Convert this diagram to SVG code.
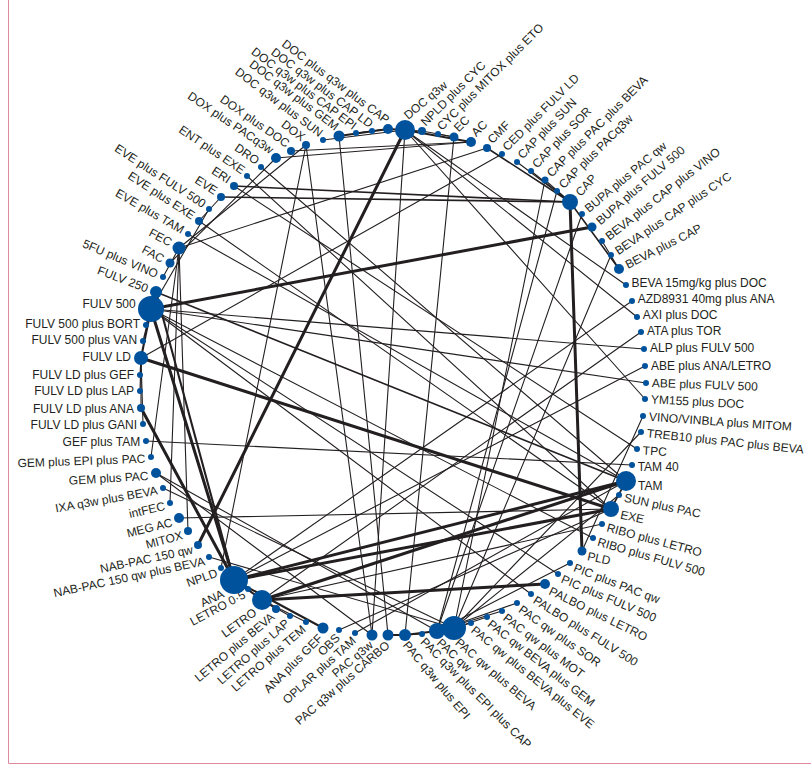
<svg xmlns="http://www.w3.org/2000/svg" width="811" height="767" viewBox="0 0 811 767">
<style>
text{font-family:"Liberation Sans",Arial,sans-serif;font-size:12px;fill:#231f20}
.s{text-anchor:start}.e{text-anchor:end}
circle{fill:#00529c}
#edges line{stroke:#231f20;stroke-linecap:round}
.t1{stroke-width:1.1}.t15{stroke-width:1.6}.t2{stroke-width:2.1}.t3{stroke-width:3}
.frame{stroke:#e08aa0;stroke-width:1;fill:none}
</style>
<rect width="811" height="767" fill="#ffffff"/>
<path class="frame" d="M8.5,0 V763.5 H811"/>
<g id="edges">
<line class="t2" x1="405" y1="130" x2="388" y2="129"/>
<line class="t2" x1="388" y1="129" x2="339" y2="136"/>
<line class="t1" x1="388" y1="129" x2="372" y2="131"/>
<line class="t1" x1="388" y1="129" x2="356" y2="133"/>
<line class="t1" x1="405" y1="130" x2="323" y2="140"/>
<line class="t1" x1="405" y1="130" x2="422" y2="131"/>
<line class="t1" x1="422" y1="131" x2="454" y2="137"/>
<line class="t1" x1="438" y1="134" x2="454" y2="137"/>
<line class="t2" x1="405" y1="130" x2="471" y2="142"/>
<line class="t1" x1="471" y1="142" x2="291" y2="151"/>
<line class="t1" x1="471" y1="142" x2="276" y2="158"/>
<line class="t1" x1="454" y1="137" x2="405" y2="635"/>
<line class="t1" x1="487" y1="148" x2="179" y2="248"/>
<line class="t1" x1="502" y1="154" x2="141" y2="358"/>
<line class="t15" x1="487" y1="148" x2="570" y2="202"/>
<line class="t1" x1="517" y1="162" x2="570" y2="202"/>
<line class="t1" x1="531" y1="171" x2="570" y2="202"/>
<line class="t1" x1="545" y1="180" x2="570" y2="202"/>
<line class="t1" x1="557" y1="191" x2="570" y2="202"/>
<line class="t1" x1="545" y1="180" x2="454" y2="628"/>
<line class="t1" x1="557" y1="191" x2="437" y2="631"/>
<line class="t3" x1="570" y1="202" x2="582" y2="551"/>
<line class="t15" x1="570" y1="202" x2="234" y2="186"/>
<line class="t15" x1="570" y1="202" x2="221" y2="197"/>
<line class="t15" x1="570" y1="202" x2="619" y2="269"/>
<line class="t1" x1="582" y1="214" x2="437" y2="631"/>
<line class="t3" x1="592" y1="227" x2="151" y2="309"/>
<line class="t1" x1="602" y1="241" x2="619" y2="269"/>
<line class="t1" x1="611" y1="255" x2="454" y2="628"/>
<line class="t1" x1="626" y1="285" x2="405" y2="130"/>
<line class="t1" x1="632" y1="301" x2="234" y2="580"/>
<line class="t1" x1="637" y1="317" x2="405" y2="130"/>
<line class="t1" x1="641" y1="332" x2="262" y2="600"/>
<line class="t1" x1="644" y1="349" x2="151" y2="309"/>
<line class="t1" x1="645" y1="366" x2="234" y2="580"/>
<line class="t1" x1="646" y1="383" x2="151" y2="309"/>
<line class="t1" x1="645" y1="399" x2="405" y2="130"/>
<line class="t1" x1="643" y1="416" x2="582" y2="551"/>
<line class="t1" x1="641" y1="432" x2="454" y2="628"/>
<line class="t1" x1="637" y1="449" x2="234" y2="186"/>
<line class="t1" x1="146" y1="441" x2="632" y2="465"/>
<line class="t1" x1="619" y1="495" x2="454" y2="628"/>
<line class="t1" x1="611" y1="509" x2="179" y2="518"/>
<line class="t1" x1="611" y1="509" x2="247" y2="176"/>
<line class="t1" x1="611" y1="509" x2="199" y2="221"/>
<line class="t3" x1="611" y1="509" x2="141" y2="358"/>
<line class="t3" x1="611" y1="509" x2="234" y2="580"/>
<line class="t15" x1="611" y1="509" x2="626" y2="481"/>
<line class="t1" x1="602" y1="524" x2="262" y2="600"/>
<line class="t1" x1="593" y1="538" x2="151" y2="309"/>
<line class="t1" x1="570" y1="563" x2="437" y2="631"/>
<line class="t1" x1="558" y1="574" x2="151" y2="309"/>
<line class="t3" x1="545" y1="584" x2="262" y2="600"/>
<line class="t1" x1="531" y1="594" x2="151" y2="309"/>
<line class="t1" x1="517" y1="603" x2="437" y2="631"/>
<line class="t1" x1="502" y1="611" x2="437" y2="631"/>
<line class="t1" x1="487" y1="617" x2="454" y2="628"/>
<line class="t1" x1="471" y1="623" x2="454" y2="628"/>
<line class="t3" x1="454" y1="628" x2="437" y2="631"/>
<line class="t1" x1="422" y1="634" x2="405" y2="635"/>
<line class="t2" x1="405" y1="635" x2="437" y2="631"/>
<line class="t2" x1="388" y1="635" x2="405" y2="635"/>
<line class="t1" x1="372" y1="635" x2="306" y2="145"/>
<line class="t1" x1="372" y1="635" x2="156" y2="473"/>
<line class="t1" x1="372" y1="635" x2="405" y2="130"/>
<line class="t1" x1="388" y1="635" x2="339" y2="136"/>
<line class="t2" x1="234" y1="580" x2="323" y2="628"/>
<line class="t1" x1="262" y1="600" x2="276" y2="609"/>
<line class="t1" x1="262" y1="600" x2="290" y2="616"/>
<line class="t1" x1="262" y1="600" x2="306" y2="622"/>
<line class="t1" x1="355" y1="633" x2="626" y2="481"/>
<line class="t1" x1="339" y1="630" x2="611" y2="509"/>
<line class="t1" x1="209" y1="557" x2="454" y2="628"/>
<line class="t3" x1="198" y1="545" x2="405" y2="130"/>
<line class="t1" x1="179" y1="248" x2="188" y2="531"/>
<line class="t1" x1="179" y1="248" x2="170" y2="503"/>
<line class="t1" x1="179" y1="248" x2="151" y2="457"/>
<line class="t1" x1="163" y1="488" x2="454" y2="628"/>
<line class="t1" x1="156" y1="473" x2="437" y2="631"/>
<line class="t1" x1="143" y1="424" x2="141" y2="358"/>
<line class="t1" x1="141" y1="408" x2="141" y2="358"/>
<line class="t1" x1="140" y1="391" x2="141" y2="358"/>
<line class="t1" x1="140" y1="375" x2="141" y2="358"/>
<line class="t3" x1="141" y1="408" x2="234" y2="580"/>
<line class="t1" x1="143" y1="341" x2="151" y2="309"/>
<line class="t1" x1="146" y1="325" x2="151" y2="309"/>
<line class="t2" x1="151" y1="309" x2="141" y2="358"/>
<line class="t2" x1="151" y1="309" x2="156" y2="292"/>
<line class="t3" x1="151" y1="309" x2="234" y2="580"/>
<line class="t2" x1="156" y1="292" x2="234" y2="580"/>
<line class="t15" x1="156" y1="292" x2="626" y2="481"/>
<line class="t1" x1="163" y1="277" x2="179" y2="248"/>
<line class="t1" x1="170" y1="263" x2="276" y2="158"/>
<line class="t1" x1="179" y1="248" x2="306" y2="145"/>
<line class="t1" x1="188" y1="234" x2="626" y2="481"/>
<line class="t1" x1="221" y1="197" x2="199" y2="221"/>
<line class="t1" x1="261" y1="167" x2="626" y2="481"/>
<line class="t1" x1="209" y1="209" x2="151" y2="309"/>
<line class="t3" x1="234" y1="580" x2="626" y2="481"/>
<line class="t3" x1="262" y1="600" x2="626" y2="481"/>
<line class="t15" x1="234" y1="580" x2="262" y2="600"/>
<line class="t1" x1="248" y1="589" x2="262" y2="600"/>
<line class="t1" x1="221" y1="568" x2="306" y2="145"/>
</g>
<g id="n-docq3w"><circle cx="405" cy="130" r="10"/><text class="s" transform="translate(405,130) rotate(-87.3) translate(13,0) rotate(47.3)" y="4">DOC q3w</text></g>
<g id="n-npldcyc"><circle cx="422" cy="131" r="4"/><text class="s" transform="translate(422,131) rotate(-83.4) translate(7,0) rotate(38.4)" y="4">NPLD plus CYC</text></g>
<g id="n-cycmitox"><circle cx="438" cy="134" r="3"/><text class="s" transform="translate(438,134) rotate(-79.7) translate(6,0) rotate(34.7)" y="4">CYC plus MITOX plus ETO</text></g>
<g id="n-ec"><circle cx="454" cy="137" r="4.5"/><text class="s" transform="translate(454,137) rotate(-76) translate(7.5,0) rotate(31)" y="4">EC</text></g>
<g id="n-ac"><circle cx="471" cy="142" r="5"/><text class="s" transform="translate(471,142) rotate(-72) translate(8,0) rotate(27)" y="4">AC</text></g>
<g id="n-cmf"><circle cx="487" cy="148" r="4"/><text class="s" transform="translate(487,148) rotate(-68.1) translate(7,0) rotate(23.1)" y="4">CMF</text></g>
<g id="n-cedfulvld"><circle cx="502" cy="154" r="3"/><text class="s" transform="translate(502,154) rotate(-64.4) translate(6,0) rotate(19.4)" y="4">CED plus FULV LD</text></g>
<g id="n-capsun"><circle cx="517" cy="162" r="3"/><text class="s" transform="translate(517,162) rotate(-60.6) translate(6,0) rotate(14.6)" y="4">CAP plus SUN</text></g>
<g id="n-capsor"><circle cx="531" cy="171" r="3"/><text class="s" transform="translate(531,171) rotate(-56.8) translate(6,0) rotate(10.8)" y="4">CAP plus SOR</text></g>
<g id="n-cappacbeva"><circle cx="545" cy="180" r="3.5"/><text class="s" transform="translate(545,180) rotate(-53) translate(6.5,0) rotate(8)" y="4">CAP plus PAC plus BEVA</text></g>
<g id="n-cappacq3w"><circle cx="557" cy="191" r="3"/><text class="s" transform="translate(557,191) rotate(-49.4) translate(6,0) rotate(4.4)" y="4">CAP plus PACq3w</text></g>
<g id="n-cap"><circle cx="570" cy="202" r="8"/><text class="s" transform="translate(570,202) rotate(-45.5) translate(11,0) rotate(-1.5)" y="4">CAP</text></g>
<g id="n-bupapac"><circle cx="582" cy="214" r="3"/><text class="s" transform="translate(582,214) rotate(-41.6) translate(6,0) rotate(1.6)" y="4">BUPA plus PAC qw</text></g>
<g id="n-bupafulv"><circle cx="592" cy="227" r="4.5"/><text class="s" transform="translate(592,227) rotate(-37.9) translate(7.5,0) rotate(-3.1)" y="4">BUPA plus FULV 500</text></g>
<g id="n-bevacapvino"><circle cx="602" cy="241" r="3"/><text class="s" transform="translate(602,241) rotate(-34) translate(6,0) rotate(-4)" y="4">BEVA plus CAP plus VINO</text></g>
<g id="n-bevacapcyc"><circle cx="611" cy="255" r="3"/><text class="s" transform="translate(611,255) rotate(-30.2) translate(6,0) rotate(-3.8)" y="4">BEVA plus  CAP plus CYC</text></g>
<g id="n-bevacap"><circle cx="619" cy="269" r="5"/><text class="s" transform="translate(619,269) rotate(-26.6) translate(8,0) rotate(-0.4)" y="4">BEVA plus CAP</text></g>
<g id="n-beva15doc"><circle cx="626" cy="285" r="3"/><text class="s" transform="translate(626,285) rotate(-22.6) translate(6,0) rotate(22.6)" y="4">BEVA 15mg/kg plus DOC</text></g>
<g id="n-azd"><circle cx="632" cy="301" r="3"/><text class="s" transform="translate(632,301) rotate(-18.7) translate(6,0) rotate(18.7)" y="4">AZD8931 40mg plus ANA</text></g>
<g id="n-axidoc"><circle cx="637" cy="317" r="3"/><text class="s" transform="translate(637,317) rotate(-14.9) translate(6,0) rotate(14.9)" y="4">AXI plus DOC</text></g>
<g id="n-atator"><circle cx="641" cy="332" r="3"/><text class="s" transform="translate(641,332) rotate(-11.4) translate(6,0) rotate(11.4)" y="4">ATA plus TOR</text></g>
<g id="n-alpfulv"><circle cx="644" cy="349" r="3"/><text class="s" transform="translate(644,349) rotate(-7.5) translate(6,0) rotate(7.5)" y="4">ALP plus FULV 500</text></g>
<g id="n-abeana"><circle cx="645" cy="366" r="3"/><text class="s" transform="translate(645,366) rotate(-3.6) translate(6,0) rotate(3.6)" y="4">ABE plus ANA/LETRO</text></g>
<g id="n-abefulv"><circle cx="646" cy="383" r="3"/><text class="s" transform="translate(646,383) rotate(0.2) translate(6,0) rotate(1.8)" y="4">ABE plus FULV 500</text></g>
<g id="n-ym155"><circle cx="645" cy="399" r="3"/><text class="s" transform="translate(645,399) rotate(3.9) translate(6,0) rotate(-0.9)" y="4">YM155 plus DOC</text></g>
<g id="n-vino"><circle cx="643" cy="416" r="3"/><text class="s" transform="translate(643,416) rotate(7.7) translate(6,0) rotate(-3.7)" y="4">VINO/VINBLA plus MITOM</text></g>
<g id="n-treb"><circle cx="641" cy="432" r="3"/><text class="s" transform="translate(641,432) rotate(11.4) translate(6,0) rotate(-5.4)" y="4">TREB10 plus PAC plus BEVA</text></g>
<g id="n-tpc"><circle cx="637" cy="449" r="3"/><text class="s" transform="translate(637,449) rotate(15.4) translate(6,0) rotate(-12.4)" y="4">TPC</text></g>
<g id="n-tam40"><circle cx="632" cy="465" r="3"/><text class="s" transform="translate(632,465) rotate(19.2) translate(6,0) rotate(-19.2)" y="4">TAM 40</text></g>
<g id="n-tam"><circle cx="626" cy="481" r="10"/><text class="s" transform="translate(626,481) rotate(23) translate(13,0) rotate(-23)" y="4">TAM</text></g>
<g id="n-sunpac"><circle cx="619" cy="495" r="3"/><text class="s" transform="translate(619,495) rotate(26.6) translate(6,0) rotate(-14.6)" y="4">SUN plus PAC</text></g>
<g id="n-exe"><circle cx="611" cy="509" r="8"/><text class="s" transform="translate(611,509) rotate(30.2) translate(11,0) rotate(-18.2)" y="4">EXE</text></g>
<g id="n-riboletro"><circle cx="602" cy="524" r="3"/><text class="s" transform="translate(602,524) rotate(34.2) translate(6,0) rotate(-19.2)" y="4">RIBO plus LETRO</text></g>
<g id="n-ribofulv"><circle cx="593" cy="538" r="3"/><text class="s" transform="translate(593,538) rotate(38) translate(6,0) rotate(-22)" y="4">RIBO plus FULV 500</text></g>
<g id="n-pld"><circle cx="582" cy="551" r="4.5"/><text class="s" transform="translate(582,551) rotate(41.8) translate(7.5,0) rotate(-29.8)" y="4">PLD</text></g>
<g id="n-picpac"><circle cx="570" cy="563" r="3"/><text class="s" transform="translate(570,563) rotate(45.6) translate(6,0) rotate(-24.6)" y="4">PIC plus PAC qw</text></g>
<g id="n-picfulv"><circle cx="558" cy="574" r="3"/><text class="s" transform="translate(558,574) rotate(49.3) translate(6,0) rotate(-26.3)" y="4">PIC plus FULV 500</text></g>
<g id="n-palboletro"><circle cx="545" cy="584" r="5"/><text class="s" transform="translate(545,584) rotate(53) translate(8,0) rotate(-27)" y="4">PALBO plus LETRO</text></g>
<g id="n-palbofulv"><circle cx="531" cy="594" r="3"/><text class="s" transform="translate(531,594) rotate(56.9) translate(6,0) rotate(-24.9)" y="4">PALBO plus FULV 500</text></g>
<g id="n-pacsor"><circle cx="517" cy="603" r="3"/><text class="s" transform="translate(517,603) rotate(60.7) translate(6,0) rotate(-25.7)" y="4">PAC qw plus  SOR</text></g>
<g id="n-pacmot"><circle cx="502" cy="611" r="3"/><text class="s" transform="translate(502,611) rotate(64.5) translate(6,0) rotate(-27.5)" y="4">PAC qw plus MOT</text></g>
<g id="n-pacbevagem"><circle cx="487" cy="617" r="3"/><text class="s" transform="translate(487,617) rotate(68.2) translate(6,0) rotate(-30.2)" y="4">PAC qw BEVA plus GEM</text></g>
<g id="n-pacbevaeve"><circle cx="471" cy="623" r="3"/><text class="s" transform="translate(471,623) rotate(72.1) translate(6,0) rotate(-33.1)" y="4">PAC qw plus BEVA plus EVE</text></g>
<g id="n-pacqwbeva"><circle cx="454" cy="628" r="12"/><text class="s" transform="translate(454,628) rotate(76.1) translate(13,0) rotate(-35.1)" y="4">PAC qw plus BEVA</text></g>
<g id="n-pacqw"><circle cx="437" cy="631" r="8"/><text class="s" transform="translate(437,631) rotate(80) translate(10,0) rotate(-37)" y="4">PAC qw</text></g>
<g id="n-pacepicap"><circle cx="422" cy="634" r="3"/><text class="s" transform="translate(422,634) rotate(83.4) translate(6,0) rotate(-38.4)" y="4">PAC q3w plus EPI plus CAP</text></g>
<g id="n-pacepi"><circle cx="405" cy="635" r="6"/><text class="s" transform="translate(405,635) rotate(87.3) translate(8,0) rotate(-37.3)" y="4">PAC q3w plus EPI</text></g>
<g id="n-paccarbo"><circle cx="388" cy="635" r="5.5"/><text class="e" transform="translate(388,635) rotate(91.1) translate(8.5,0) rotate(-132.1)" y="4">PAC q3w plus CARBO</text></g>
<g id="n-pacq3w"><circle cx="372" cy="635" r="5.5"/><text class="e" transform="translate(372,635) rotate(94.7) translate(8.5,0) rotate(-134.7)" y="4">PAC q3w</text></g>
<g id="n-oplar"><circle cx="355" cy="633" r="3"/><text class="e" transform="translate(355,633) rotate(98.6) translate(6,0) rotate(-140.6)" y="4">OPLAR plus TAM</text></g>
<g id="n-obs"><circle cx="339" cy="630" r="3"/><text class="e" transform="translate(339,630) rotate(102.3) translate(6,0) rotate(-147.3)" y="4">OBS</text></g>
<g id="n-anagef"><circle cx="323" cy="628" r="5.5"/><text class="e" transform="translate(323,628) rotate(105.9) translate(8.5,0) rotate(-150.9)" y="4">ANA plus GEF</text></g>
<g id="n-letrotem"><circle cx="306" cy="622" r="3"/><text class="e" transform="translate(306,622) rotate(110) translate(6,0) rotate(-151)" y="4">LETRO plus TEM</text></g>
<g id="n-letrolap"><circle cx="290" cy="616" r="3"/><text class="e" transform="translate(290,616) rotate(113.8) translate(6,0) rotate(-155.2)" y="4">LETRO plus LAP</text></g>
<g id="n-letrobeva"><circle cx="276" cy="609" r="4"/><text class="e" transform="translate(276,609) rotate(117.3) translate(7,0) rotate(-157.3)" y="4">LETRO plus BEVA</text></g>
<g id="n-letro"><circle cx="262" cy="600" r="10"/><text class="e" transform="translate(262,600) rotate(121) translate(13,0) rotate(-157)" y="4">LETRO</text></g>
<g id="n-letro05"><circle cx="248" cy="589" r="3"/><text class="e" transform="translate(248,589) rotate(125) translate(6,0) rotate(-153)" y="4">LETRO 0·5</text></g>
<g id="n-ana"><circle cx="234" cy="580" r="14"/><text class="e" transform="translate(234,580) rotate(128.8) translate(17,0) rotate(-153.8)" y="4">ANA</text></g>
<g id="n-npld"><circle cx="221" cy="568" r="3"/><text class="e" transform="translate(221,568) rotate(132.8) translate(6,0) rotate(-152.8)" y="4">NPLD</text></g>
<g id="n-nabbeva"><circle cx="209" cy="557" r="3"/><text class="e" transform="translate(209,557) rotate(136.4) translate(6,0) rotate(-148.4)" y="4">NAB-PAC 150 qw plus BEVA</text></g>
<g id="n-nab"><circle cx="198" cy="545" r="4"/><text class="e" transform="translate(198,545) rotate(140.1) translate(7,0) rotate(-152.1)" y="4">NAB-PAC 150 qw</text></g>
<g id="n-mitox"><circle cx="188" cy="531" r="4"/><text class="e" transform="translate(188,531) rotate(144) translate(7,0) rotate(-159)" y="4">MITOX</text></g>
<g id="n-megac"><circle cx="179" cy="518" r="5"/><text class="e" transform="translate(179,518) rotate(147.6) translate(8,0) rotate(-161.6)" y="4">MEG AC</text></g>
<g id="n-intfec"><circle cx="170" cy="503" r="3"/><text class="e" transform="translate(170,503) rotate(151.5) translate(6,0) rotate(-164.5)" y="4">intFEC</text></g>
<g id="n-ixa"><circle cx="163" cy="488" r="3"/><text class="e" transform="translate(163,488) rotate(155.3) translate(6,0) rotate(-165.3)" y="4">IXA q3w plus BEVA</text></g>
<g id="n-gempac"><circle cx="156" cy="473" r="5"/><text class="e" transform="translate(156,473) rotate(159) translate(8,0) rotate(-162.5)" y="4">GEM plus PAC</text></g>
<g id="n-gemepi"><circle cx="151" cy="457" r="3"/><text class="e" transform="translate(151,457) rotate(162.8) translate(6,0) rotate(-164.8)" y="4">GEM plus EPI plus PAC</text></g>
<g id="n-geftam"><circle cx="146" cy="441" r="3"/><text class="e" transform="translate(146,441) rotate(166.6) translate(6,0) rotate(-166.6)" y="4">GEF plus TAM</text></g>
<g id="n-fulvgani"><circle cx="143" cy="424" r="3"/><text class="e" transform="translate(143,424) rotate(170.5) translate(6,0) rotate(-170.5)" y="4">FULV LD plus GANI</text></g>
<g id="n-fulvana"><circle cx="141" cy="408" r="4"/><text class="e" transform="translate(141,408) rotate(174.1) translate(7,0) rotate(-174.1)" y="4">FULV LD plus ANA</text></g>
<g id="n-fulvlap"><circle cx="140" cy="391" r="3"/><text class="e" transform="translate(140,391) rotate(178) translate(6,0) rotate(-178)" y="4">FULV LD plus LAP</text></g>
<g id="n-fulvgef"><circle cx="140" cy="375" r="3"/><text class="e" transform="translate(140,375) rotate(181.6) translate(6,0) rotate(-181.6)" y="4">FULV LD plus GEF</text></g>
<g id="n-fulvld"><circle cx="141" cy="358" r="7"/><text class="e" transform="translate(141,358) rotate(185.4) translate(10,0) rotate(-185.4)" y="4">FULV LD</text></g>
<g id="n-fulvvan"><circle cx="143" cy="341" r="3"/><text class="e" transform="translate(143,341) rotate(189.3) translate(6,0) rotate(-189.3)" y="4">FULV 500 plus VAN</text></g>
<g id="n-fulvbort"><circle cx="146" cy="325" r="3"/><text class="e" transform="translate(146,325) rotate(193) translate(6,0) rotate(-193)" y="4">FULV 500 plus BORT</text></g>
<g id="n-fulv500"><circle cx="151" cy="309" r="13"/><text class="e" transform="translate(151,309) rotate(196.8) translate(16,0) rotate(-196.8)" y="4">FULV 500</text></g>
<g id="n-fulv250"><circle cx="156" cy="292" r="6"/><text class="e" transform="translate(156,292) rotate(200.8) translate(9,0) rotate(-179.8)" y="4">FULV 250</text></g>
<g id="n-5fu"><circle cx="163" cy="277" r="3"/><text class="e" transform="translate(163,277) rotate(204.5) translate(6,0) rotate(-181.5)" y="4">5FU plus VINO</text></g>
<g id="n-fac"><circle cx="170" cy="263" r="4.5"/><text class="e" transform="translate(170,263) rotate(208.1) translate(7.5,0) rotate(-180.1)" y="4">FAC</text></g>
<g id="n-fec"><circle cx="179" cy="248" r="6.5"/><text class="e" transform="translate(179,248) rotate(212.1) translate(9.5,0) rotate(-184.1)" y="4">FEC</text></g>
<g id="n-evetam"><circle cx="188" cy="234" r="3"/><text class="e" transform="translate(188,234) rotate(215.8) translate(6,0) rotate(-185.8)" y="4">EVE plus TAM</text></g>
<g id="n-eveexe"><circle cx="199" cy="221" r="4"/><text class="e" transform="translate(199,221) rotate(219.7) translate(7,0) rotate(-186.7)" y="4">EVE plus EXE</text></g>
<g id="n-evefulv"><circle cx="209" cy="209" r="3"/><text class="e" transform="translate(209,209) rotate(223.2) translate(6,0) rotate(-190.2)" y="4">EVE plus FULV 500</text></g>
<g id="n-eve"><circle cx="221" cy="197" r="4"/><text class="e" transform="translate(221,197) rotate(227.1) translate(7,0) rotate(-194.1)" y="4">EVE</text></g>
<g id="n-eri"><circle cx="234" cy="186" r="4"/><text class="e" transform="translate(234,186) rotate(231) translate(7,0) rotate(-198)" y="4">ERI</text></g>
<g id="n-entexe"><circle cx="247" cy="176" r="3"/><text class="e" transform="translate(247,176) rotate(234.7) translate(6,0) rotate(-200.7)" y="4">ENT plus EXE</text></g>
<g id="n-dro"><circle cx="261" cy="167" r="3"/><text class="e" transform="translate(261,167) rotate(238.4) translate(6,0) rotate(-203.4)" y="4">DRO</text></g>
<g id="n-doxpac"><circle cx="276" cy="158" r="5"/><text class="e" transform="translate(276,158) rotate(242.4) translate(8,0) rotate(-208.4)" y="4">DOX plus PACq3w</text></g>
<g id="n-doxdoc"><circle cx="291" cy="151" r="4"/><text class="e" transform="translate(291,151) rotate(246.2) translate(7,0) rotate(-211.2)" y="4">DOX plus DOC</text></g>
<g id="n-dox"><circle cx="306" cy="145" r="4"/><text class="e" transform="translate(306,145) rotate(249.8) translate(7,0) rotate(-212.8)" y="4">DOX</text></g>
<g id="n-docsun"><circle cx="323" cy="140" r="3"/><text class="e" transform="translate(323,140) rotate(253.9) translate(6,0) rotate(-216.9)" y="4">DOC q3w plus SUN</text></g>
<g id="n-docgem"><circle cx="339" cy="136" r="5.5"/><text class="e" transform="translate(339,136) rotate(257.6) translate(8.5,0) rotate(-220.6)" y="4">DOC q3w plus GEM</text></g>
<g id="n-doccapepi"><circle cx="356" cy="133" r="3"/><text class="e" transform="translate(356,133) rotate(261.5) translate(6,0) rotate(-224.5)" y="4">DOC q3w plus CAP EPI</text></g>
<g id="n-doccapld"><circle cx="372" cy="131" r="3"/><text class="e" transform="translate(372,131) rotate(265.2) translate(6,0) rotate(-228.2)" y="4">DOC q3w plus CAP LD</text></g>
<g id="n-doccap"><circle cx="388" cy="129" r="5"/><text class="e" transform="translate(388,129) rotate(268.9) translate(8,0) rotate(-231.9)" y="4">DOC plus q3w plus CAP</text></g>
</svg>
